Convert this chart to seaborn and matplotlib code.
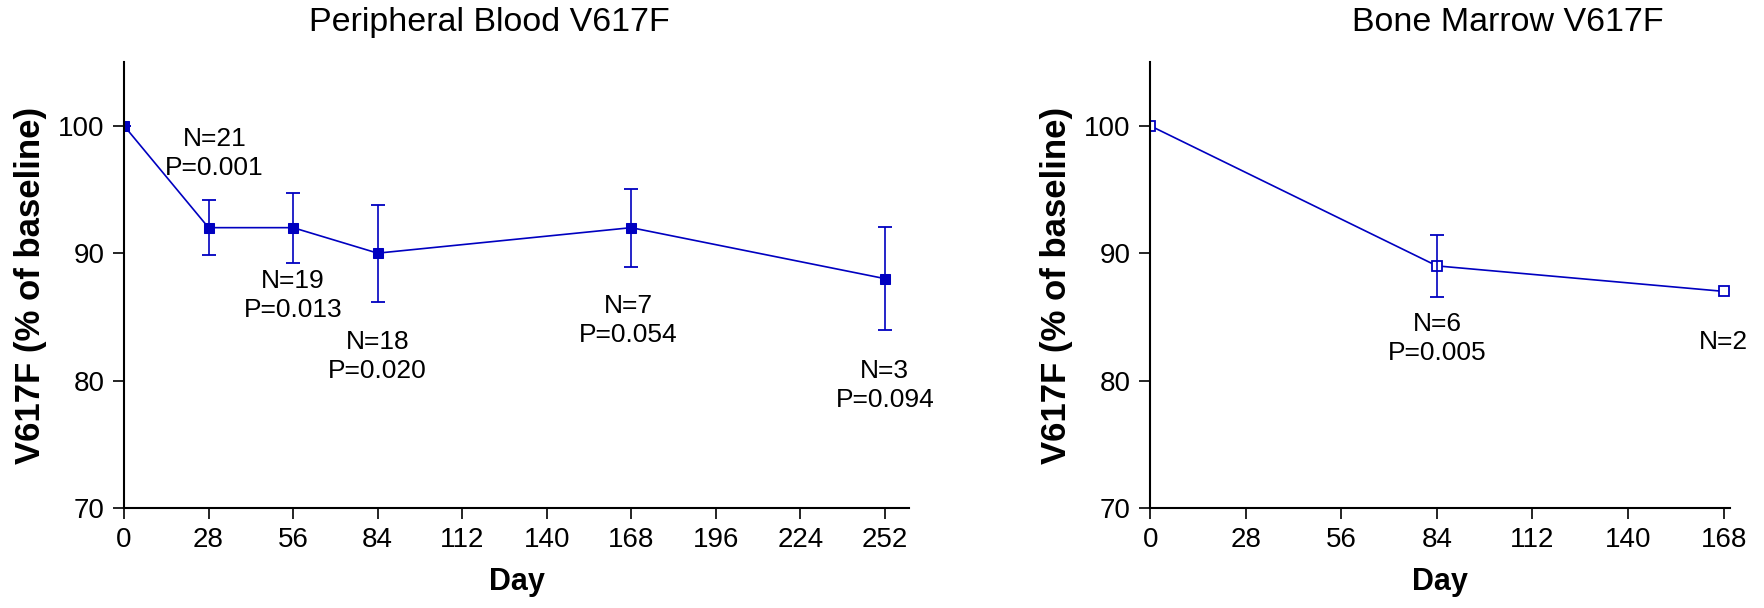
import matplotlib
matplotlib.use("Agg")
import matplotlib.pyplot as plt
import seaborn as sns
import pandas as pd

# Peripheral blood data
pb_day = [0, 28, 56, 84, 168, 252]
pb_value = [100, 92, 92, 90, 92, 88]
pb_err = [0, 2.15, 2.75, 3.8, 3.05, 4.05]
pb_labels = ["", "N=21\nP=0.001", "N=19\nP=0.013", "N=18\nP=0.020", "N=7\nP=0.054", "N=3\nP=0.094"]
pb_label_pos = [(0, 0), (30, 97.8), (56, 86.7), (84, 81.9), (167, 84.7), (252, 79.6)]

# Bone marrow data
bm_day = [0, 84, 168]
bm_value = [100, 89, 87]
bm_err = [0, 2.45, 0]
bm_labels = ["", "N=6\nP=0.005", "N=2"]
bm_label_pos = [(0, 0), (84, 83.3), (168, 83.0)]

pb_ticks = [0, 28, 56, 84, 112, 140, 168, 196, 224, 252]
bm_ticks = [0, 28, 56, 84, 112, 140, 168]
y_ticks = [70, 80, 90, 100]

sns.set_theme(style="ticks")
plt.rcParams["font.family"] = ["Liberation Sans", "DejaVu Sans"]
plt.rcParams["text.color"] = "black"
plt.rcParams["axes.labelcolor"] = "black"

blue = "#0000C0"
fig = plt.figure(figsize=(17.64, 6.08), dpi=100)
ax1 = fig.add_axes([0.0703, 0.1645, 0.445, 0.7335])
ax2 = fig.add_axes([0.652, 0.1645, 0.329, 0.7335])

pb = pd.DataFrame({"day": pb_day, "value": pb_value})
bm = pd.DataFrame({"day": bm_day, "value": bm_value})

sns.lineplot(data=pb, x="day", y="value", ax=ax1, color=blue, lw=1.2,
             marker="s", markersize=6.5, markeredgecolor=blue, markerfacecolor=blue)
ax1.errorbar(pb_day, pb_value, yerr=pb_err, fmt="none", ecolor=blue,
             elinewidth=1.2, capsize=5, capthick=1.3)

sns.lineplot(data=bm, x="day", y="value", ax=ax2, color=blue, lw=1.2,
             marker="s", markersize=7.5, markeredgecolor=blue, markerfacecolor="white",
             markeredgewidth=1.3)
ax2.errorbar(bm_day[1:2], bm_value[1:2], yerr=bm_err[1:2], fmt="none", ecolor=blue,
             elinewidth=1.2, capsize=5, capthick=1.3)

for lab, (x, y) in zip(pb_labels, pb_label_pos):
    if lab:
        ax1.text(x, y, lab, ha="center", va="center", fontsize=19, linespacing=1.25)
for lab, (x, y) in zip(bm_labels, bm_label_pos):
    if lab:
        ax2.text(x, y, lab, ha="center", va="center", fontsize=19, linespacing=1.25)

for ax, ticks, xmax, title, tx in [(ax1, pb_ticks, 260, "Peripheral Blood V617F", 0.466),
                                    (ax2, bm_ticks, 170, "Bone Marrow V617F", 0.616)]:
    ax.set_xlim(0, xmax)
    ax.set_ylim(70, 105)
    ax.set_xticks(ticks)
    ax.set_yticks(y_ticks)
    ax.tick_params(axis="both", direction="out", length=8, width=1.2, pad=6,
                   labelsize=20, colors="black")
    ax.set_xlabel("Day", fontsize=22, fontweight="bold", labelpad=10)
    ax.set_ylabel("V617F (% of baseline)", fontsize=25, fontweight="bold", labelpad=8)
    ax.set_title(title, fontsize=24.5, x=tx, pad=22)
    for s in ["top", "right"]:
        ax.spines[s].set_visible(False)
    for s in ["left", "bottom"]:
        ax.spines[s].set_linewidth(1.5)
        ax.spines[s].set_color("black")

fig.savefig("out.png", dpi=100)
